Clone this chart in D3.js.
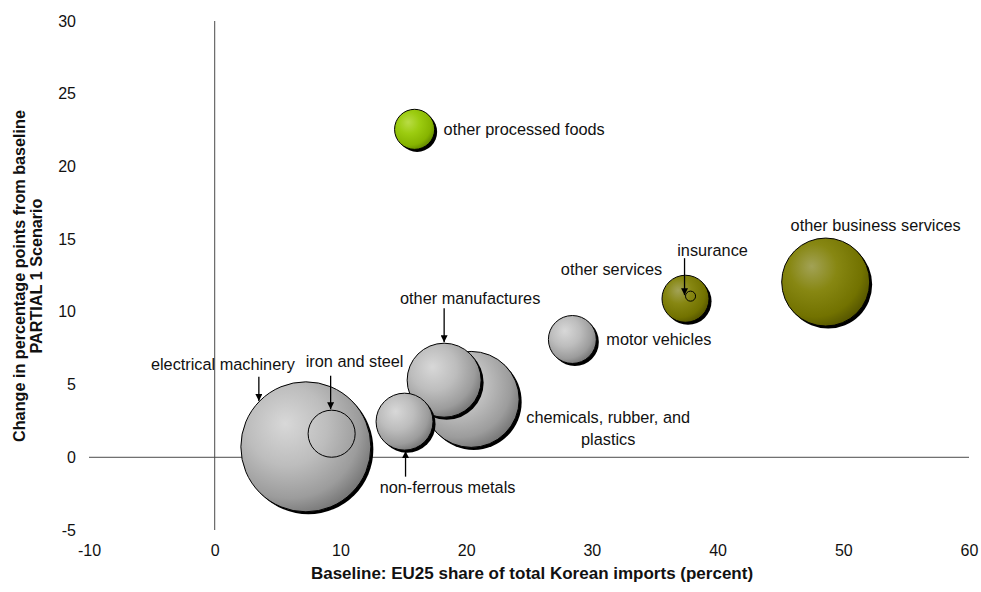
<!DOCTYPE html>
<html><head><meta charset="utf-8">
<script src="https://cdn.jsdelivr.net/npm/d3@7"></script>
<style>
html,body{margin:0;padding:0;background:#fff;}
svg{display:block;font-family:"Liberation Sans",Arial,sans-serif;}
</style></head>
<body><svg id="chart" width="981" height="592"></svg>
<script>
// ---- data ----
const sectors   = ["electrical machinery","chemicals, rubber, and plastics","other business services","other manufactures","non-ferrous metals","motor vehicles","iron and steel","other services","other processed foods","insurance"];
const baseShare = [7.25, 20.4, 48.6, 18.25, 15.1, 28.45, 9.3, 37.45, 15.9, 37.85];   // x: baseline EU25 share (%)
const change    = [0.72, 3.98, 12.05, 5.3, 2.45, 8.1, 1.62, 10.9, 22.55, 11.08];    // y: change in pp
const bubbleSize= [100, 54.5, 45.8, 32.4, 19.2, 13.6, 13.1, 13.1, 9.5, 0.6];        // relative bubble size
const group     = ["manuf","manuf","services","manuf","manuf","manuf","hollow","services","food","hollow"];
const xTicks = [-10,0,10,20,30,40,50,60];
const yTicks = [-5,0,5,10,15,20,25,30];

// ---- label layout (pixel offsets from bubble centre) ----
const labelLayout = {
  "electrical machinery": {lines:["electrical machinery"], dx:-83, dy:-83, anchor:"middle", arrow:{dx:-47, from:-70}},
  "iron and steel": {lines:["iron and steel"], dx:23, dy:-72, anchor:"middle", arrow:{dx:-1, from:-58}},
  "non-ferrous metals": {lines:["non-ferrous metals"], dx:43, dy:66, anchor:"middle", arrow:{dx:1, from:55, below:true}},
  "other manufactures": {lines:["other manufactures"], dx:26, dy:-82, anchor:"middle", arrow:{dx:0, from:-72}},
  "chemicals, rubber, and plastics": {lines:["chemicals, rubber, and","plastics"], dx:137, dy:29, anchor:"middle"},
  "motor vehicles": {lines:["motor vehicles"], dx:34, dy:0, anchor:"start"},
  "other services": {lines:["other services"], dx:-74, dy:-29, anchor:"middle"},
  "insurance": {lines:["insurance"], dx:22, dy:-46, anchor:"middle", arrow:{dx:-6, from:-38}},
  "other business services": {lines:["other business services"], dx:50, dy:-57, anchor:"middle"},
  "other processed foods": {lines:["other processed foods"], dx:29, dy:0, anchor:"start"}
};

const svg = d3.select("#chart");
const x = d3.scaleLinear().domain([-10,60]).range([89,969]);
const y = d3.scaleLinear().domain([-5,30]).range([530,21]);
const r = d3.scaleSqrt().domain([0,100]).range([0,65]);

// gradients
const defs = svg.append("defs");
function grad(id, stops){
  const g = defs.append("radialGradient").attr("id",id)
    .attr("cx","38%").attr("cy","36%").attr("r","68%").attr("fx","34%").attr("fy","32%");
  stops.forEach(s=>g.append("stop").attr("offset",s[0]).attr("stop-color",s[1]));
}
grad("g-manuf",[[0,"#d8d8d8"],[0.45,"#bdbdbd"],[0.8,"#9c9c9c"],[1,"#767676"]]);
grad("g-services",[[0,"#a2a256"],[0.4,"#878712"],[0.8,"#727200"],[1,"#555500"]]);
grad("g-food",[[0,"#b9dc45"],[0.4,"#9ccc10"],[0.8,"#86b400"],[1,"#628800"]]);
defs.append("marker").attr("id","arrow").attr("viewBox","0 0 10 10")
  .attr("refX",10).attr("refY",5).attr("markerWidth",7).attr("markerHeight",7)
  .attr("markerUnits","userSpaceOnUse").attr("orient","auto")
  .append("path").attr("d","M0,0L10,5L0,10Z").attr("fill","#000");

// axes lines crossing at zero
svg.append("line").attr("x1",x(-10)).attr("x2",x(60)).attr("y1",y(0)).attr("y2",y(0))
  .attr("stroke","#4a4a4a").attr("stroke-width",1);
svg.append("line").attr("x1",x(0)).attr("x2",x(0)).attr("y1",y(-5)).attr("y2",y(30))
  .attr("stroke","#4a4a4a").attr("stroke-width",1);

// tick labels via d3 axes
const fmt = d => String(d);
const yAxis = svg.append("g").attr("transform",`translate(${x(-10)-13},0)`)
  .call(d3.axisLeft(y).tickValues(yTicks).tickSize(0).tickPadding(0).tickFormat(fmt));
yAxis.select(".domain").remove();
yAxis.selectAll("text").attr("font-size","16px").attr("fill","#111").attr("font-family","Liberation Sans, Arial, sans-serif");
const xAxis = svg.append("g").attr("transform",`translate(0,${y(-5)+15})`)
  .call(d3.axisBottom(x).tickValues(xTicks).tickSize(0).tickPadding(0).tickFormat(fmt));
xAxis.select(".domain").remove();
xAxis.selectAll("text").attr("font-size","16px").attr("fill","#111").attr("font-family","Liberation Sans, Arial, sans-serif");

// axis titles
svg.append("text").attr("x",532).attr("y",579)
  .attr("text-anchor","middle").attr("font-weight","bold").attr("font-size","17px").attr("fill","#111")
  .text("Baseline: EU25 share of total Korean imports (percent)");
const yt = svg.append("text").attr("transform","translate(25,276) rotate(-90)")
  .attr("text-anchor","middle").attr("font-weight","bold").attr("font-size","16.2px").attr("fill","#111");
yt.append("tspan").attr("x",0).attr("y",0).text("Change in percentage points from baseline");
yt.append("tspan").attr("x",0).attr("y",17).text("PARTIAL 1 Scenario");

// bubbles
const data = sectors.map((s,i)=>({name:s,x:baseShare[i],y:change[i],size:bubbleSize[i],group:group[i]}));
const order = data.slice().sort((a,b)=>b.size-a.size);
const gB = svg.append("g");
order.forEach(d=>{
  const cx=x(d.x), cy=y(d.y), rr=r(d.size);
  if(d.group==="hollow"){
    gB.append("circle").attr("cx",cx).attr("cy",cy).attr("r",rr)
      .attr("fill","none").attr("stroke","#000").attr("stroke-width",1);
  } else {
    gB.append("circle").attr("cx",cx+2.5).attr("cy",cy+2.5).attr("r",rr).attr("fill","#000");
    gB.append("circle").attr("cx",cx).attr("cy",cy).attr("r",rr)
      .attr("fill",`url(#g-${d.group})`).attr("stroke","#000").attr("stroke-width",1);
  }
});

// labels and arrows
const gL = svg.append("g");
data.forEach(d=>{
  const L = labelLayout[d.name]; if(!L) return;
  const cx=x(d.x), cy=y(d.y), rr=r(d.size);
  const n=L.lines.length;
  L.lines.forEach((t,i)=>{
    gL.append("text").attr("x",cx+L.dx).attr("y",cy+L.dy+(i-(n-1)/2)*22)
      .attr("dy","0.35em").attr("text-anchor",L.anchor).attr("font-size","16.3px").attr("fill","#111")
      .text(t);
  });
  if(L.arrow){
    const ax=cx+L.arrow.dx;
    const off=Math.sqrt(Math.max(0,rr*rr-L.arrow.dx*L.arrow.dx));
    const tipY = L.arrow.below ? cy+off+1 : cy-off-1;
    gL.append("line").attr("x1",ax).attr("x2",ax).attr("y1",cy+L.arrow.from).attr("y2",tipY)
      .attr("stroke","#000").attr("stroke-width",1.3).attr("marker-end","url(#arrow)");
  }
});
</script></body></html>
